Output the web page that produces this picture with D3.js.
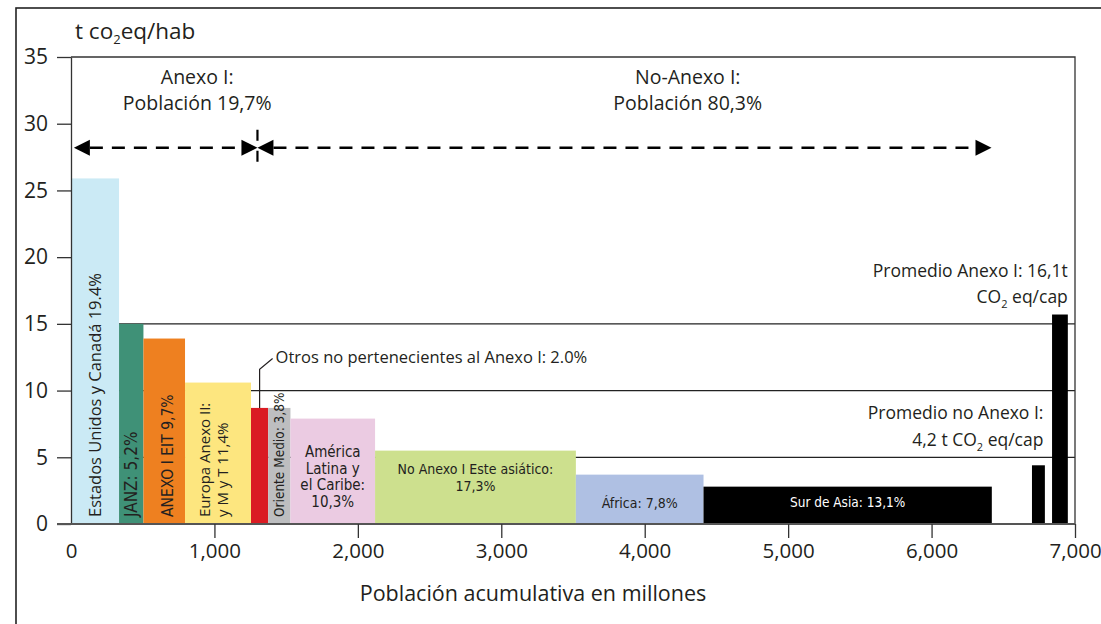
<!DOCTYPE html>
<html>
<head>
<meta charset="utf-8">
<script src="https://cdn.jsdelivr.net/npm/d3@7"></script>
<style>
  body { margin: 0; background: #fff; }
  svg { display: block; font-family: "Open Sans", sans-serif; fill: #231f20; }
  .narrow { font-family: "Liberation Sans Narrow", "DejaVu Sans Condensed", sans-serif; }
</style>
</head>
<body>
<div id="chart"></div>
<script>
// Regions, in the order they are stacked along the population axis
const regions = ["Estados Unidos y Canadá", "JANZ", "ANEXO I EIT", "Europa Anexo II y M y T",
  "Otros no pertenecientes al Anexo I", "Oriente Medio", "América Latina y el Caribe",
  "No Anexo I Este asiático", "África", "Sur de Asia"];
// population in millions (bar width) and t CO2eq per inhabitant (bar height)
const population = [335, 170, 290, 460, 120, 155, 590, 1400, 890, 2010];
const emissions = [25.9, 15.0, 13.9, 10.6, 8.7, 8.7, 7.9, 5.5, 3.7, 2.8];
const barLabels = [
  ["Estados Unidos y Canadá 19.4%"],
  ["JANZ: 5,2%"],
  ["ANEXO I EIT 9,7%"],
  ["Europa Anexo II:", "y M y T 11,4%"],
  [],
  ["Oriente Medio: 3,8%"],
  ["América", "Latina y", "el Caribe:", "10,3%"],
  ["No Anexo I Este asiático:", "17,3%"],
  ["África: 7,8%"],
  ["Sur de Asia: 13,1%"]
];
const otherLabel = "Otros no pertenecientes al Anexo I: 2.0%";

// averages drawn at the right end
const avgStart = [6700, 6840];
const avgEnd = [6790, 6950];
const avgValue = [4.4, 15.7];

const xTicks = [0, 1000, 2000, 3000, 4000, 5000, 6000, 7000];
const yTicks = [0, 5, 10, 15, 20, 25, 30, 35];
const gridValues = [5, 10, 15];

const colors = ["#cbeaf5", "#3f9177", "#ee8020", "#fde67f", "#da1b23", "#bdbec0",
  "#ebcbe2", "#cde08e", "#afc0e3", "#000000"];

const width = 1101, height = 624;
const svg = d3.select("#chart").append("svg")
  .attr("width", width)
  .attr("height", height);

// outer frame (runs off the right and bottom edges)
svg.append("rect")
  .attr("x", 16).attr("y", 8)
  .attr("width", 1200).attr("height", 800)
  .attr("fill", "none").attr("stroke", "#222").attr("stroke-width", 1.6);

const x = d3.scaleLinear().domain([0, 7000]).range([71, 1075]);
const y = d3.scaleLinear().domain([0, 35]).range([524, 57]);

// cumulative positions
let acc = 0;
const bars = regions.map((r, i) => {
  const b = { name: r, x0: acc, x1: acc + population[i], v: emissions[i], color: colors[i], label: barLabels[i] };
  acc += population[i];
  return b;
});

// grid lines + frame of plot area
svg.append("g").selectAll("line")
  .data(gridValues)
  .join("line")
  .attr("x1", x(0)).attr("x2", x(7000))
  .attr("y1", d => y(d)).attr("y2", d => y(d))
  .attr("stroke", "#222").attr("stroke-width", 1.3);

svg.append("path")
  .attr("d", `M${x(0)},${y(35)}H${x(7000)}V${y(0)}`)
  .attr("fill", "none").attr("stroke", "#333").attr("stroke-width", 1.3);

// bars
svg.append("g").selectAll("rect")
  .data(bars)
  .join("rect")
  .attr("x", d => x(d.x0))
  .attr("width", d => x(d.x1) - x(d.x0))
  .attr("y", d => y(d.v))
  .attr("height", d => y(0) - y(d.v))
  .attr("fill", d => d.color);

// average bars
svg.append("g").selectAll("rect")
  .data(avgValue)
  .join("rect")
  .attr("x", (d, i) => x(avgStart[i]))
  .attr("width", (d, i) => x(avgEnd[i]) - x(avgStart[i]))
  .attr("y", d => y(d))
  .attr("height", d => y(0) - y(d))
  .attr("fill", "#000");

// axes
const yAxis = svg.append("g")
  .attr("transform", `translate(${x(0)},0)`)
  .call(d3.axisLeft(y).tickValues(yTicks).tickSize(14).tickSizeOuter(0).tickPadding(9));
yAxis.select(".domain").attr("stroke", "#333").attr("stroke-width", 1.3);
yAxis.selectAll(".tick line").attr("stroke", "#333").attr("stroke-width", 1.3);
yAxis.selectAll(".tick text").style("font-size", "21px").attr("fill", "#231f20")
  .style("font-family", "Open Sans");

const xAxis = svg.append("g")
  .attr("transform", `translate(0,${y(0)})`)
  .call(d3.axisBottom(x).tickValues(xTicks).tickSize(14).tickSizeOuter(0).tickPadding(5)
    .tickFormat(d3.format(",")));
xAxis.select(".domain").attr("d", `M${x(0) - 14},0H${x(7000)}`)
  .attr("stroke", "#555").attr("stroke-width", 2);
xAxis.selectAll(".tick line").attr("stroke", "#333").attr("stroke-width", 1.3)
  .filter(d => d === 0).remove();
xAxis.selectAll(".tick text").style("font-size", "20.5px").attr("fill", "#231f20")
  .style("font-family", "Open Sans");

// bar labels
const rotated = [0, 1, 2, 3, 5];
const rotSize = { 0: 16.5, 1: 17, 2: 15.5, 3: 15, 5: 13.5 };
rotated.forEach(i => {
  const b = bars[i];
  const n = b.label.length;
  const cx = (x(b.x0) + x(b.x1)) / 2;
  b.label.forEach((line, j) => {
    const lx = cx + (j - (n - 1) / 2) * 18 + (i === 2 ? 3 : 0) + (i === 3 ? -4 : 0);
    svg.append("text")
      .attr("class", i === 0 || i === 3 ? null : "narrow")
      .attr("transform", `translate(${lx},${y(0) - 7}) rotate(-90)`)
      .attr("dy", "0.35em")
      .style("font-size", rotSize[i] + "px")
      .text(line);
  });
});

[6, 7, 8].forEach(i => {
  const b = bars[i];
  const cx = (x(b.x0) + x(b.x1)) / 2;
  const lh = 16.5;
  const top = i === 6 ? y(5.4) : (i === 7 ? y(4.1) : y(1.6));
  b.label.forEach((line, j) => {
    svg.append("text")
      .attr("class", "narrow")
      .attr("x", cx).attr("y", top + j * lh)
      .attr("dy", "0.35em")
      .attr("text-anchor", "middle")
      .style("font-size", i === 6 ? "15px" : "14px")
      .text(line);
  });
});
{
  const b = bars[9];
  svg.append("text")
    .attr("class", "narrow")
    .attr("x", (x(b.x0) + x(b.x1)) / 2).attr("y", y(1.6))
    .attr("dy", "0.35em")
    .attr("text-anchor", "middle")
    .attr("fill", "#fff")
    .style("font-size", "13.5px")
    .text(b.label[0]);
}

// callout for "Otros"
{
  const b = bars[4];
  const lx = (x(b.x0) + x(b.x1)) / 2;
  svg.append("path")
    .attr("d", `M${lx},${y(b.v)}V${y(11.6)}L${lx + 13},${y(12.4)}`)
    .attr("fill", "none").attr("stroke", "#231f20").attr("stroke-width", 1.2);
  svg.append("text")
    .attr("x", lx + 16).attr("y", y(12.5))
    .attr("dy", "0.35em")
    .style("font-size", "16.5px")
    .text(otherLabel);
}

// average annotations
function co2Text(sel, before, after) {
  sel.append("tspan").text(before + "CO");
  sel.append("tspan").attr("dy", 5).style("font-size", "11px").text("2");
  sel.append("tspan").attr("dy", -5).text(after);
}
svg.append("text").attr("x", x(6950)).attr("y", y(19)).attr("dy", "0.35em")
  .attr("text-anchor", "end").style("font-size", "17.5px").text("Promedio Anexo I: 16,1t");
co2Text(svg.append("text").attr("x", x(6950)).attr("y", y(17)).attr("dy", "0.35em")
  .attr("text-anchor", "end").style("font-size", "17.5px"), "", " eq/cap");
svg.append("text").attr("x", x(6780)).attr("y", y(8.3)).attr("dy", "0.35em")
  .attr("text-anchor", "end").style("font-size", "17.5px").text("Promedio no Anexo I:");
co2Text(svg.append("text").attr("x", x(6780)).attr("y", y(6.3)).attr("dy", "0.35em")
  .attr("text-anchor", "end").style("font-size", "17.5px"), "4,2 t ", " eq/cap");

// y title
{
  const t = svg.append("text").attr("x", 75).attr("y", 39).style("font-size", "22.5px");
  t.append("tspan").text("t co");
  t.append("tspan").attr("dy", 5).style("font-size", "13px").text("2");
  t.append("tspan").attr("dy", -5).text("eq/hab");
}

// x title
svg.append("text")
  .attr("x", (x(0) + x(7000)) / 2 - 40).attr("y", 593)
  .attr("dy", "0.35em")
  .attr("text-anchor", "middle")
  .style("font-size", "21.5px")
  .text("Población acumulativa en millones");

// population split annotation
const arrowY = y(28.2);
const leftTip = x(20), midX = x(1300), rightTip = x(6418);
const head = 16, half = 8;
svg.append("g").selectAll("line")
  .data([[leftTip + head, midX - head], [midX + head, rightTip - head]])
  .join("line")
  .attr("x1", d => d[0]).attr("x2", d => d[1])
  .attr("y1", arrowY).attr("y2", arrowY)
  .attr("stroke", "#000").attr("stroke-width", 2.6)
  .attr("stroke-dasharray", "13,9");
svg.append("line")
  .attr("x1", midX).attr("x2", midX)
  .attr("y1", arrowY - 18).attr("y2", arrowY + 20)
  .attr("stroke", "#000").attr("stroke-width", 2.2)
  .attr("stroke-dasharray", "11,10");
const heads = [
  [leftTip, -1], [midX, 1], [midX, -1], [rightTip, 1]
];
svg.append("g").selectAll("path")
  .data(heads)
  .join("path")
  .attr("d", d => `M${d[0]},${arrowY}L${d[0] - d[1] * head},${arrowY - half}L${d[0] - d[1] * head},${arrowY + half}Z`)
  .attr("fill", "#000");

const groupText = [
  { cx: 880, lines: ["Anexo I:", "Población 19,7%"] },
  { cx: 4300, lines: ["No-Anexo I:", "Población 80,3%"] }
];
groupText.forEach(g => {
  g.lines.forEach((line, j) => {
    svg.append("text")
      .attr("x", x(g.cx)).attr("y", y(33.5) + j * 26)
      .attr("dy", "0.35em")
      .attr("text-anchor", "middle")
      .style("font-size", "19.5px")
      .text(line);
  });
});
</script>
</body>
</html>
